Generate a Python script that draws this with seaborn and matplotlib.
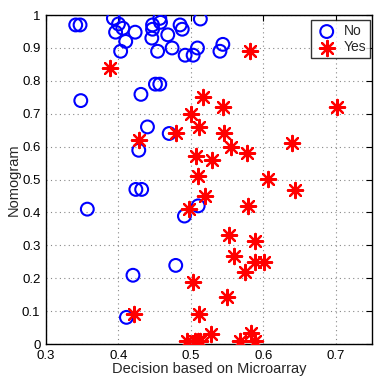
import numpy as np
import pandas as pd
import matplotlib
matplotlib.use("Agg")
import matplotlib.pyplot as plt
import seaborn as sns

# "No" group (blue circles)
no_x = [0.341, 0.347, 0.393, 0.400, 0.396, 0.406, 0.410, 0.403, 0.423, 0.447,
        0.457, 0.458, 0.447, 0.446, 0.468, 0.454, 0.474, 0.485, 0.488, 0.492,
        0.503, 0.509, 0.513, 0.544, 0.540, 0.451, 0.457, 0.431, 0.348, 0.440,
        0.470, 0.428, 0.424, 0.432, 0.357, 0.510, 0.491, 0.479, 0.420, 0.411]
no_y = [0.970, 0.970, 0.990, 0.973, 0.948, 0.960, 0.920, 0.890, 0.948, 0.970,
        0.990, 0.978, 0.957, 0.930, 0.940, 0.890, 0.900, 0.970, 0.957, 0.878,
        0.878, 0.900, 0.988, 0.911, 0.890, 0.790, 0.790, 0.759, 0.740, 0.660,
        0.640, 0.589, 0.470, 0.470, 0.410, 0.420, 0.389, 0.239, 0.209, 0.081]

# "Yes" group (red asterisks)
yes_x = [0.388, 0.516, 0.500, 0.511, 0.479, 0.428, 0.507, 0.510, 0.581, 0.544,
         0.702, 0.546, 0.555, 0.578, 0.640, 0.529, 0.606, 0.520, 0.497, 0.503,
         0.511, 0.422, 0.494, 0.506, 0.510, 0.513, 0.643, 0.579, 0.552, 0.589,
         0.560, 0.589, 0.601, 0.574, 0.550, 0.528, 0.568, 0.583, 0.588]
yes_y = [0.840, 0.750, 0.700, 0.660, 0.640, 0.620, 0.571, 0.510, 0.890, 0.720,
         0.720, 0.640, 0.600, 0.580, 0.610, 0.560, 0.503, 0.450, 0.410, 0.190,
         0.091, 0.091, 0.010, 0.010, 0.010, 0.010, 0.468, 0.420, 0.330, 0.312,
         0.268, 0.250, 0.250, 0.220, 0.142, 0.030, 0.010, 0.032, 0.010]

x_ticks = [0.3, 0.4, 0.5, 0.6, 0.7]
y_ticks = [0, 0.1, 0.2, 0.3, 0.4, 0.5, 0.6, 0.7, 0.8, 0.9, 1]
y_tick_labels = ["0", "0.1", "0.2", "0.3", "0.4", "0.5", "0.6", "0.7", "0.8", "0.9", "1"]

df_no = pd.DataFrame({"micro": no_x, "nomo": no_y})
df_yes = pd.DataFrame({"micro": yes_x, "nomo": yes_y})

sns.set_style("white")
plt.rcParams["font.family"] = ["Liberation Sans", "DejaVu Sans"]

fig = plt.figure(figsize=(3.74, 3.77), dpi=100)
ax = fig.add_axes([0.123, 0.0875, 0.872, 0.8725])

sns.scatterplot(data=df_no, x="micro", y="nomo", ax=ax, marker="o", s=85,
                facecolors="none", edgecolor="#0000ff", linewidth=1.5,
                label="No", zorder=3)
sns.scatterplot(data=df_yes, x="micro", y="nomo", ax=ax, marker=(8, 2, 0), s=120,
                color="#ff0000", linewidth=1.6, label="Yes", zorder=3)

ax.set_xlim(0.3, 0.75)
ax.set_ylim(0, 1)
ax.set_xticks(x_ticks)
ax.set_xticklabels([f"{t:g}" for t in x_ticks])
ax.set_yticks(y_ticks)
ax.set_yticklabels(y_tick_labels)
ax.tick_params(direction="in", length=4, labelsize=9.5, colors="black",
               top=True, right=True)
ax.tick_params(axis="x", pad=4)
ax.tick_params(axis="y", pad=4)
ax.grid(True, linestyle=(0, (1, 3)), color="#888888", linewidth=0.8)
for sp in ax.spines.values():
    sp.set_color("black")
    sp.set_linewidth(1.0)

ax.set_xlabel("Decision based on Microarray", fontsize=10.5, labelpad=0)
ax.set_ylabel("Nomogram", fontsize=10.5, labelpad=1)

leg = ax.legend(loc="upper right", bbox_to_anchor=(0.994, 0.985), fontsize=10,
                frameon=True, fancybox=False, borderaxespad=0, handletextpad=0.4,
                borderpad=0.3, labelspacing=0.15, handlelength=1.6)
leg.get_frame().set_edgecolor("black")
leg.get_frame().set_linewidth(1.0)

fig.savefig("out.png", dpi=100)
